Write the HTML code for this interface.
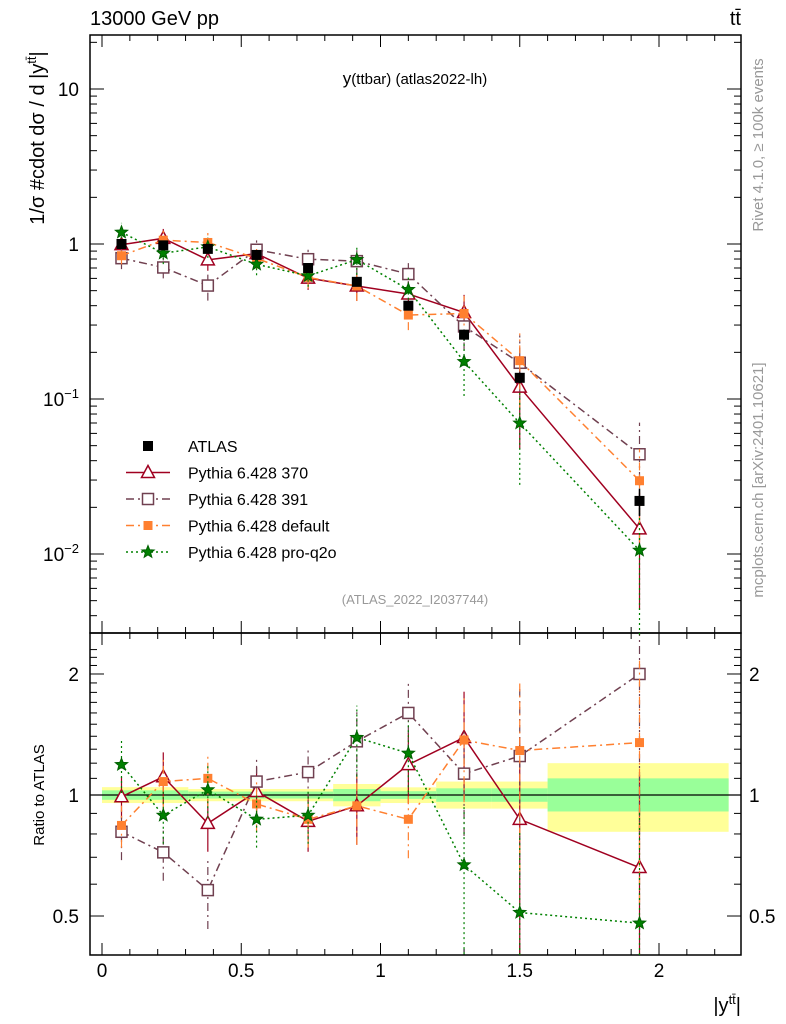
<!DOCTYPE html>
<html><head><meta charset="utf-8"><style>
body{margin:0;background:#fff}
svg{display:block;font-family:"Liberation Sans",sans-serif}
</style></head><body>
<svg id="c" width="786" height="1024" viewBox="0 0 786 1024" xmlns="http://www.w3.org/2000/svg">
<text x="90" y="25" font-size="20">13000 GeV pp</text>
<text x="741" y="25" font-size="20" text-anchor="end">tt̄</text>
<text x="415" y="84" font-size="17" text-anchor="middle">y<tspan font-size="15">(ttbar) (atlas2022-lh)</tspan></text>
<text x="415" y="604" font-size="13" fill="#999" text-anchor="middle">(ATLAS_2022_I2037744)</text>
<text transform="translate(44,138) rotate(-90)" font-size="20" text-anchor="middle">1/σ #cdot dσ / d |y<tspan font-size="13" dy="-8">tt̄</tspan><tspan dy="8">|</tspan></text>
<text transform="translate(44,795) rotate(-90)" font-size="15" text-anchor="middle">Ratio to ATLAS</text>
<text x="741" y="1012" font-size="20" text-anchor="end">|y<tspan font-size="13" dy="-8">tt̄</tspan><tspan dy="8">|</tspan></text>
<text transform="translate(763,145) rotate(-90)" font-size="15" fill="#999" text-anchor="middle">Rivet 4.1.0, ≥ 100k events</text>
<text transform="translate(763,480) rotate(-90)" font-size="15" fill="#999" text-anchor="middle">mcplots.cern.ch [arXiv:2401.10621]</text>
<g id="g"></g>
</svg>
<script>
const xCenters=[0.07,0.22,0.38,0.555,0.74,0.915,1.1,1.3,1.5,1.93];
const atlas=[1.0,0.98,0.93,0.85,0.70,0.57,0.40,0.26,0.137,0.022];
const atlasErr=[0.05,0.05,0.05,0.05,0.05,0.06,0.06,0.08,0.08,0.2];
const r370=[0.99,1.11,0.85,1.02,0.86,0.94,1.19,1.39,0.87,0.66];
const r391=[0.81,0.72,0.58,1.08,1.14,1.36,1.6,1.13,1.25,2.0];
const rDef=[0.84,1.08,1.10,0.95,0.87,0.94,0.87,1.37,1.29,1.35];
const rQ2o=[1.19,0.89,1.03,0.87,0.89,1.39,1.27,0.67,0.51,0.48];
const e370=[0.12,0.15,0.15,0.15,0.16,0.2,0.2,0.3,0.6,0.7];
const e391=[0.15,0.15,0.2,0.15,0.15,0.2,0.2,0.3,0.5,0.6];
const eDef=[0.12,0.15,0.15,0.15,0.15,0.2,0.2,0.3,0.5,0.6];
const eQ2o=[0.15,0.15,0.15,0.15,0.15,0.2,0.2,0.4,0.6,0.9];
const bandEdges=[0,0.31,0.83,1.0,1.2,1.4,1.6,2.25];
const bandYlo=[0.955,0.965,0.937,0.955,0.925,0.925,0.81];
const bandYhi=[1.046,1.035,1.065,1.045,1.08,1.08,1.2];
const bandGlo=[0.973,0.98,0.965,0.978,0.962,0.962,0.91];
const bandGhi=[1.027,1.02,1.035,1.022,1.039,1.039,1.10];
const xTicks=[0,0.5,1,1.5,2];
const xTickLabels=["0","0.5","1","1.5","2"];

const NS="http://www.w3.org/2000/svg",G=document.getElementById('g');
const L=90,R=741,T=35,M=633,B=955;
const X=v=>102+v*278.5;
const Y=v=>244-155*Math.log10(v);
const YR=v=>795-402*Math.log10(v);
function el(t,a,p){const e=document.createElementNS(NS,t);for(const k in a)e.setAttribute(k,a[k]);(p||G).appendChild(e);return e;}
for(let i=0;i<bandEdges.length-1;i++){
 const x0=X(bandEdges[i]),x1=X(bandEdges[i+1]);
 const y=el('rect',{x:x0,y:YR(bandYhi[i]),width:x1-x0,height:YR(bandYlo[i])-YR(bandYhi[i]),fill:'#ffff99'});
 
 
 const g=el('rect',{x:x0,y:YR(bandGhi[i]),width:x1-x0,height:YR(bandGlo[i])-YR(bandGhi[i]),fill:'#99ff99'});
 
 
}
el('line',{x1:L,x2:R,y1:YR(1),y2:YR(1),stroke:'#000','stroke-width':1.2});
el('rect',{x:L,y:T,width:R-L,height:M-T,fill:'none',stroke:'#000','stroke-width':1.5});
el('rect',{x:L,y:M,width:R-L,height:B-M,fill:'none',stroke:'#000','stroke-width':1.5});
for(let v=0;v<=2.25001;v+=0.1){const x=X(v),maj=Math.abs(v*2-Math.round(v*2))<1e-6,l=maj?12:6;
 for(const [y0,y1] of [[M,M-l],[T,T+l],[B,B-l],[M,M+l]])el('line',{x1:x,x2:x,y1:y0,y2:y1,stroke:'#000'});}
xTicks.forEach((v,i)=>{const t=el('text',{x:X(v),y:977,'font-size':19,'text-anchor':'middle'});t.textContent=xTickLabels[i];
 
 });
for(let d=-3;d<=1;d++)for(let k=1;k<10;k++){const v=k*Math.pow(10,d),y=Y(v);if(y<T||y>M)continue;const l=k==1?14:7;
 el('line',{x1:L,x2:L+l,y1:y,y2:y,stroke:'#000'});el('line',{x1:R,x2:R-l,y1:y,y2:y,stroke:'#000'});}
[[10,"10"],[1,"1"]].forEach(([v,s])=>{const t=el('text',{x:79,y:Y(v)+7,'font-size':19,'text-anchor':'end'});t.textContent=s;
 
 });
[[0.1,"−1"],[0.01,"−2"]].forEach(([v,s])=>{const t=el('text',{x:79,y:Y(v)+7,'font-size':19,'text-anchor':'end'});t.innerHTML='10<tspan font-size="13" dy="-8">'+s+'</tspan>';
 
 });
for(let v=0.4;v<=2.4;v+=0.1){const y=YR(v);if(y<M||y>B)continue;const maj=[0.5,1,2].some(m=>Math.abs(m-v)<1e-6),l=maj?14:7;
 el('line',{x1:L,x2:L+l,y1:y,y2:y,stroke:'#000'});el('line',{x1:R,x2:R-l,y1:y,y2:y,stroke:'#000'});}
[[2,"2"],[1,"1"],[0.5,"0.5"]].forEach(([v,s])=>{
 const t=el('text',{x:79,y:YR(v)+7,'font-size':19,'text-anchor':'end'});t.textContent=s;
 
 
 const t2=el('text',{x:749,y:YR(v)+7,'font-size':19});t2.textContent=s;
 
 });
const series=[
 {n:'pythia-370',r:r370,e:e370,c:'#a00020',d:'',m:'tri'},
 {n:'pythia-391',r:r391,e:e391,c:'#704050',d:'8,4,2,4',m:'sq'},
 {n:'pythia-default',r:rDef,e:eDef,c:'#ff8030',d:'8,4,2,4',m:'fsq'},
 {n:'pythia-pro-q2o',r:rQ2o,e:eQ2o,c:'#008000',d:'2,3',m:'star'}];
function marker(m,x,y,c,p){
 if(m=='tri')return el('path',{d:`M${x},${y-7}L${x+6.5},${y+5}L${x-6.5},${y+5}Z`,fill:'#fff',stroke:c,'stroke-width':1.5},p);
 if(m=='sq')return el('rect',{x:x-5.5,y:y-5.5,width:11,height:11,fill:'#fff',stroke:c,'stroke-width':1.5},p);
 if(m=='fsq')return el('rect',{x:x-4.5,y:y-4.5,width:9,height:9,fill:c},p);
 if(m=='star'){let d='';for(let i=0;i<10;i++){const a=-Math.PI/2+i*Math.PI/5,rr=i%2?2.8:6.5;d+=(i?'L':'M')+(x+rr*Math.cos(a))+','+(y+rr*Math.sin(a));}return el('path',{d:d+'Z',fill:c,stroke:'#006000','stroke-width':1},p);}
 if(m=='blk')return el('rect',{x:x-5,y:y-5,width:10,height:10,fill:'#000'},p);
}
series.forEach(s=>{
 const gm=el('g',{});
 const vals=s.r.map((r,i)=>r*atlas[i]);
 el('polyline',{points:vals.map((v,i)=>X(xCenters[i])+','+Y(v)).join(' '),fill:'none',stroke:s.c,'stroke-width':1.5,'stroke-dasharray':s.d},gm);
 el('polyline',{points:s.r.map((v,i)=>X(xCenters[i])+','+YR(v)).join(' '),fill:'none',stroke:s.c,'stroke-width':1.5,'stroke-dasharray':s.d},gm);
 s.r.forEach((r,i)=>{const x=X(xCenters[i]);
  const v=vals[i],lo=Math.max(v*(1-s.e[i]),0.003),hi=v*(1+s.e[i]);
  el('line',{x1:x,x2:x,y1:Y(lo),y2:Y(hi),stroke:s.c,'stroke-width':1.2,'stroke-dasharray':s.d},gm);
  const rl=Math.max(r*(1-s.e[i]),0.34),rh=r*(1+s.e[i]);
  el('line',{x1:x,x2:x,y1:Math.min(YR(rl),B),y2:Math.max(YR(rh),M),stroke:s.c,'stroke-width':1.2,'stroke-dasharray':s.d},gm);
  const m1=marker(s.m,x,Y(v),s.c,gm);
  const m2=marker(s.m,x,YR(r),s.c,gm);
 });
});
atlas.forEach((v,i)=>{const x=X(xCenters[i]);
 el('line',{x1:x,x2:x,y1:Y(v*(1-atlasErr[i])),y2:Y(v*(1+atlasErr[i])),stroke:'#000','stroke-width':1.5});
 const m=marker('blk',x,Y(v),'#000');
 
 });
const leg=[['ATLAS','#000','','blk'],['Pythia 6.428 370','#a00020','','tri'],['Pythia 6.428 391','#704050','8,4,2,4','sq'],['Pythia 6.428 default','#ff8030','8,4,2,4','fsq'],['Pythia 6.428 pro-q2o','#008000','2,3','star']];
leg.forEach((l,i)=>{const y=446+i*26.5;const g=el('g',{});
 
 
 if(i>0)el('line',{x1:126,x2:170,y1:y,y2:y,stroke:l[1],'stroke-width':1.5,'stroke-dasharray':l[2]},g);
 marker(l[3],148,y,l[1],g);
 const t=el('text',{x:188,y:y+6,'font-size':16},g);t.textContent=l[0];});
</script>
</body></html>
